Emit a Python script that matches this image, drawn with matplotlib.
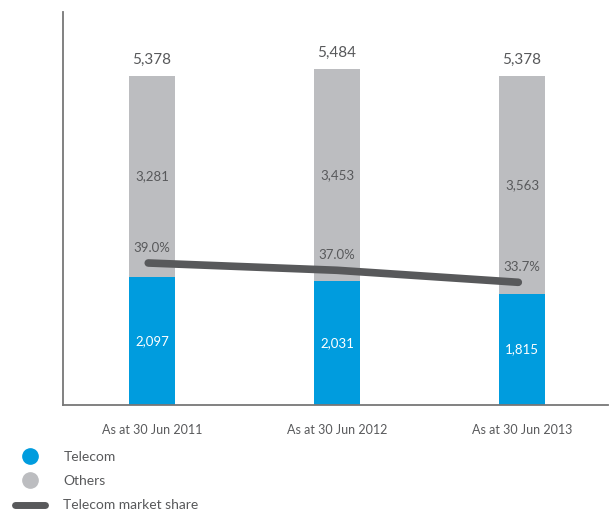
import matplotlib.pyplot as plt
from matplotlib.lines import Line2D

plt.rcParams['font.family'] = ['Lato', 'DejaVu Sans']

cats = ['As at 30 Jun 2011', 'As at 30 Jun 2012', 'As at 30 Jun 2013']
telecom = [2097, 2031, 1815]
others = [3281, 3453, 3563]
totals = [5378, 5484, 5378]
share = [39.0, 37.0, 33.7]

blue = '#009cde'
grey = '#bcbdc0'
dark = '#58595b'

fig = plt.figure(figsize=(6.09, 5.12), dpi=100)
ax = fig.add_axes([0.1034, 0.209, 0.895, 0.768])
x = range(len(cats))
w = 0.25
ax.bar(x, telecom, w, color=blue, zorder=2)
ax.bar(x, others, w, bottom=telecom, color=grey, zorder=2)

for i in x:
    ax.text(i, totals[i] + 150, f'{totals[i]:,}', ha='center', va='bottom',
            fontsize=11, color=dark)
    ax.text(i, telecom[i] + others[i] / 2, f'{others[i]:,}', ha='center',
            va='center', fontsize=9.5, color=dark)
    ax.text(i, telecom[i] / 2, f'{telecom[i]:,}', ha='center', va='center',
            fontsize=9.5, color='white')

ax.set_xlim(-0.481, 2.465)
ax.set_ylim(0, 6420)
ax.set_xticks(list(x))
ax.set_xticklabels(cats, fontsize=9, color=dark)
ax.tick_params(length=0, pad=14)
ax.set_yticks([])
for s in ['top', 'right']:
    ax.spines[s].set_visible(False)
for s in ['left', 'bottom']:
    ax.spines[s].set_color('#777777')
    ax.spines[s].set_linewidth(1.3)

ax2 = ax.twinx()
ax2.set_ylim(0, 108)
ax2.plot([-0.02, 1, 1.98], share, color=dark, lw=5.5, solid_capstyle='round', zorder=3)
for i in x:
    ax2.text(i, share[i] + 2.6, f'{share[i]:.1f}%', ha='center', va='bottom',
             fontsize=9.5, color=dark)
ax2.axis('off')

handles = [
    Line2D([], [], marker='o', ls='', color=blue, markersize=11),
    Line2D([], [], marker='o', ls='', color=grey, markersize=11),
    Line2D([], [], color=dark, lw=5, solid_capstyle='round'),
]
fig.legend(handles, ['Telecom', 'Others', 'Telecom market share'],
           loc='upper left', bbox_to_anchor=(0.015, 0.13), frameon=False,
           fontsize=10, labelcolor=dark, handlelength=2.2, handletextpad=1.3,
           labelspacing=0.88, borderaxespad=0)

fig.savefig('out.png', dpi=100)
